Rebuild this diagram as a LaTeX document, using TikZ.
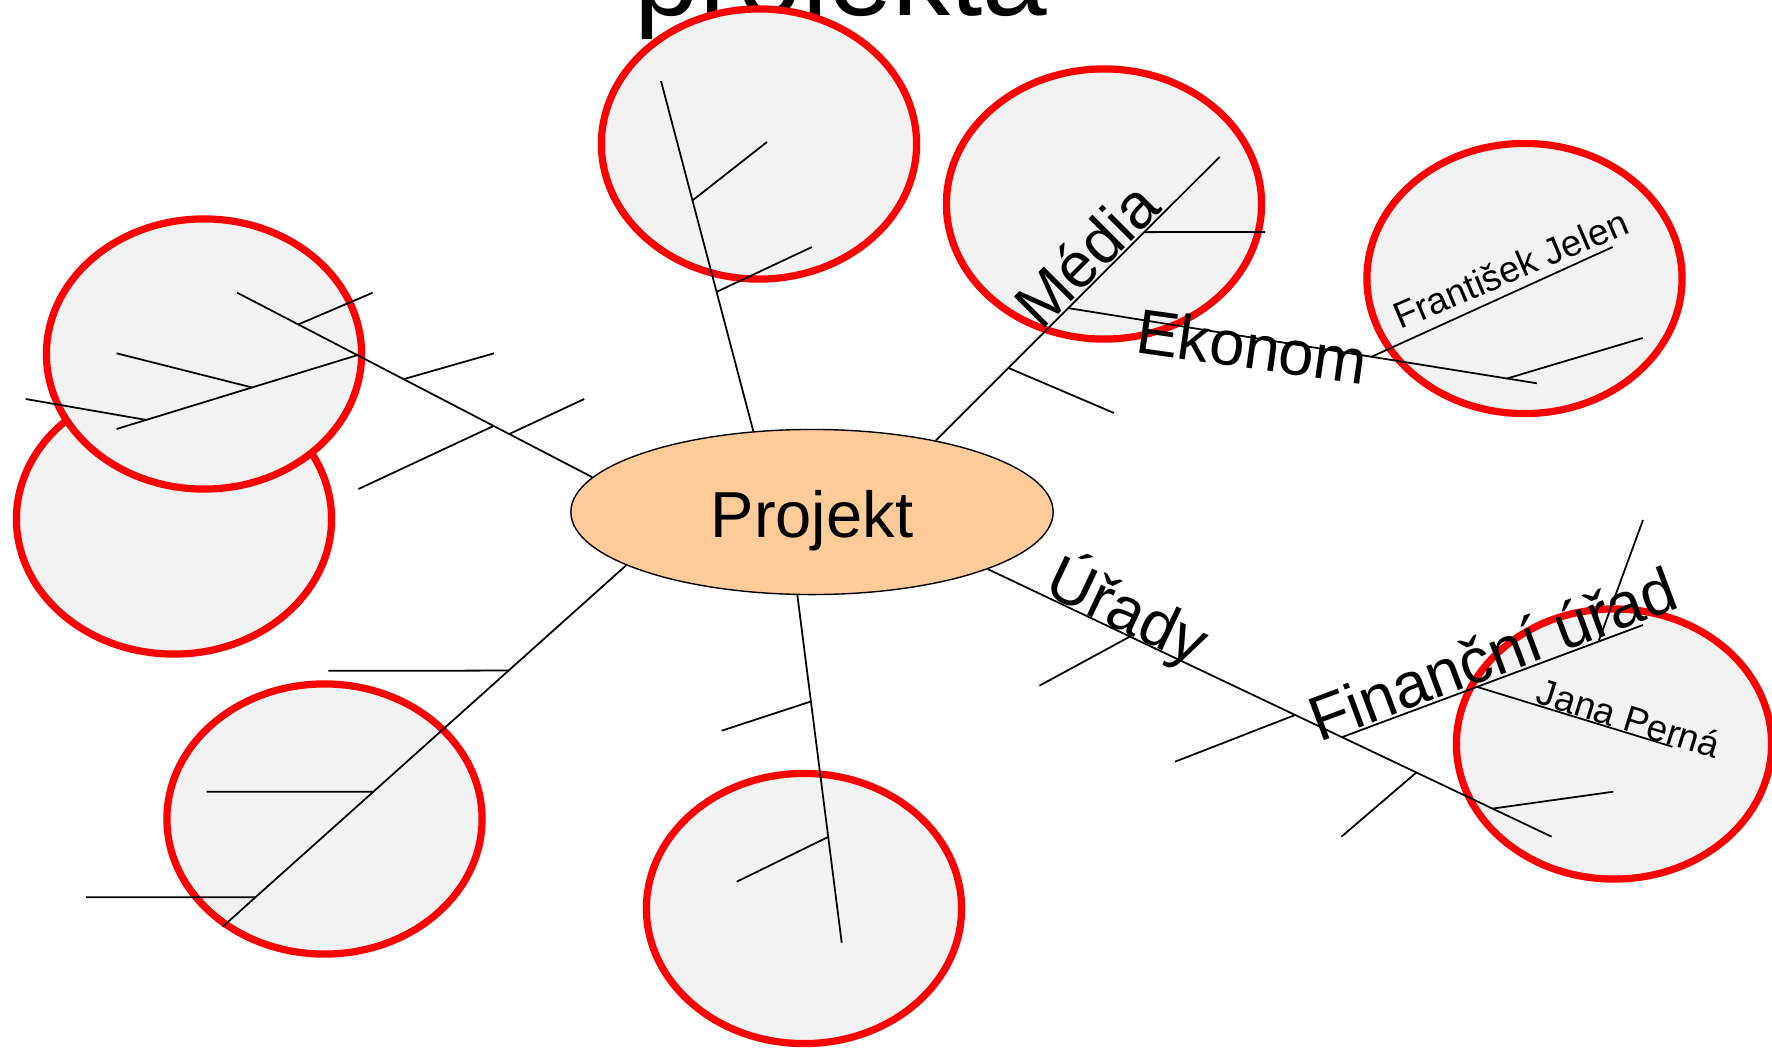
\documentclass[tikz,border=0pt]{standalone}
\usepackage{fontspec}
\setmainfont{Liberation Sans}
\usetikzlibrary{shapes.geometric}
\definecolor{BubbleRed}{RGB}{255,0,0}
\definecolor{BubbleGray}{RGB}{242,242,242}
\definecolor{HubPeach}{RGB}{255,204,153}

\begin{document}
\begin{tikzpicture}[x=0.01cm, y=-0.01cm,
    bubble/.style={ellipse, draw=BubbleRed, line width=2.05pt, fill=BubbleGray, minimum width=3.15cm, minimum height=2.70cm, inner sep=0pt},
    hub/.style={ellipse, draw=black, line width=0.4pt, fill=HubPeach, minimum width=4.82cm, minimum height=1.65cm, inner sep=0pt, text height=0.5cm, text depth=0cm, font=\fontsize{18.5}{22}\selectfont},
    branch/.style={draw=black, line width=0.5pt},
    biglabel/.style={anchor=base, inner sep=0pt, font=\fontsize{18}{22}\selectfont},
    smalllabel/.style={anchor=base, inner sep=0pt, font=\fontsize{10.5}{12}\selectfont}
  ]
    \useasboundingbox (0,0) rectangle (1772,1048);

    \node[anchor=base, inner sep=0pt, font=\fontsize{33}{38}\selectfont] (title) at (841,15.5) {projekta};

    \node[bubble] (bTop) at (759,144) {};
    \node[bubble] (bMedia) at (1104,204) {};
    \node[bubble] (bEkonom) at (1524.5,278.5) {};
    \node[bubble] (bUrady) at (1614,744) {};
    \node[bubble] (bBottom) at (804,908.5) {};
    \node[bubble] (bLowLeft) at (324.5,819) {};
    \node[bubble] (bBack) at (174,519) {};
    \node[bubble] (bFront) at (204,354) {};

    \node[hub] (proj) at (812,512) {Projekt};

    % free ends of the branches
    \coordinate (aEnd) at (661,81);
    \coordinate (a1End) at (767,142);
    \coordinate (a2End) at (812,247);
    \coordinate (bEnd) at (1219.5,157);
    \coordinate (b1End) at (1114,413);
    \coordinate (b3End) at (1265,232);
    \coordinate (ekEnd) at (1537,383.3);
    \coordinate (fjEnd) at (1612.7,247);
    \coordinate (e2End) at (1642.7,338);
    \coordinate (cEnd) at (1551.7,836.7);
    \coordinate (c1End) at (1039.4,685.7);
    \coordinate (c2End) at (1175,761.7);
    \coordinate (c4End) at (1341.4,836.7);
    \coordinate (c5End) at (1613.3,791.7);
    \coordinate (fuEnd) at (1643,625);
    \coordinate (jpEnd) at (1672.4,746.7);
    \coordinate (f2End) at (1643,520);
    \coordinate (lEnd) at (237.2,292.7);
    \coordinate (l1End) at (372.7,292.7);
    \coordinate (l2End) at (494,353.3);
    \coordinate (l3End) at (584.2,399);
    \coordinate (l4End) at (358.5,489);
    \coordinate (l5End) at (116.6,429);
    \coordinate (l6End) at (116.6,353.3);
    \coordinate (l7End) at (25.7,399);
    \coordinate (mEnd) at (222.6,926.7);
    \coordinate (m1End) at (328.3,670.7);
    \coordinate (m2End) at (206.7,791.7);
    \coordinate (m3End) at (86,897.3);
    \coordinate (nEnd) at (841.7,942.7);
    \coordinate (n1End) at (721.7,730.7);
    \coordinate (n2End) at (736.7,881.7);

    % top
    \draw[branch] (proj.126) -- (aEnd) coordinate[pos=0.398] (a2) coordinate[pos=0.659] (a1);
    \draw[branch] (a1) -- (a1End);
    \draw[branch] (a2) -- (a2End);

    % Media / Ekonom
    \draw[branch] (proj.30) -- (bEnd) coordinate[pos=0.256] (b1) coordinate[pos=0.467] (b2) coordinate[pos=0.735] (b3);
    \draw[branch] (b1) -- (b1End);
    \draw[branch] (b3) -- (b3End);
    \draw[branch] (b2) -- (ekEnd) coordinate[pos=0.647] (e1) coordinate[pos=0.936] (e2);
    \draw[branch] (e1) -- (fjEnd);
    \draw[branch] (e2) -- (e2End);

    % Urady
    \draw[branch] (proj.-18) -- (cEnd) coordinate[pos=0.252] (c1) coordinate[pos=0.545] (c2) coordinate[pos=0.628] (c3) coordinate[pos=0.760] (c4) coordinate[pos=0.895] (c5);
    \draw[branch] (c1) -- (c1End);
    \draw[branch] (c2) -- (c2End);
    \draw[branch] (c4) -- (c4End);
    \draw[branch] (c5) -- (c5End);
    \draw[branch] (c3) -- (fuEnd) coordinate[pos=0.4485] (f1) coordinate[pos=0.852] (f2);
    \draw[branch] (f1) -- (jpEnd);
    \draw[branch] (f2) -- (f2End);

    % upper left
    \draw[branch] (proj.171) -- (lEnd) coordinate[pos=0.234] (l3) coordinate[pos=0.278] (l4) coordinate[pos=0.5315] (l2) coordinate[pos=0.6615] (l5) coordinate[pos=0.828] (l1);
    \draw[branch] (l1) -- (l1End);
    \draw[branch] (l2) -- (l2End);
    \draw[branch] (l3) -- (l3End);
    \draw[branch] (l4) -- (l4End);
    \draw[branch] (l5) -- (l5End) coordinate[pos=0.4376] (l6) coordinate[pos=0.877] (l7);
    \draw[branch] (l6) -- (l6End);
    \draw[branch] (l7) -- (l7End);

    % lower left
    \draw[branch] (proj.196) -- (mEnd) coordinate[pos=0.2914] (m1) coordinate[pos=0.6263] (m2) coordinate[pos=0.9186] (m3);
    \draw[branch] (m1) -- (m1End);
    \draw[branch] (m2) -- (m2End);
    \draw[branch] (m3) -- (m3End);

    % bottom
    \draw[branch] (proj.-100) -- (nEnd) coordinate[pos=0.306] (n1) coordinate[pos=0.6957] (n2);
    \draw[branch] (n1) -- (n1End);
    \draw[branch] (n2) -- (n2End);

    \node[biglabel, rotate=45] (lblMedia) at (1102,271) {Média};
    \node[biglabel, rotate=-8] (lblEkonom) at (1249,368.5) {Ekonom};
    \node[biglabel, rotate=-25.3] (lblUrady) at (1118.5,630) {Úřady};
    \node[biglabel, rotate=20.5] (lblFinUrad) at (1500.5,675) {Finanční úřad};
    \node[smalllabel, rotate=23] (lblJelen) at (1516,281) {František Jelen};
    \node[smalllabel, rotate=-17.3] (lblPerna) at (1625,731) {Jana Perná};
  \end{tikzpicture}
\end{document}
